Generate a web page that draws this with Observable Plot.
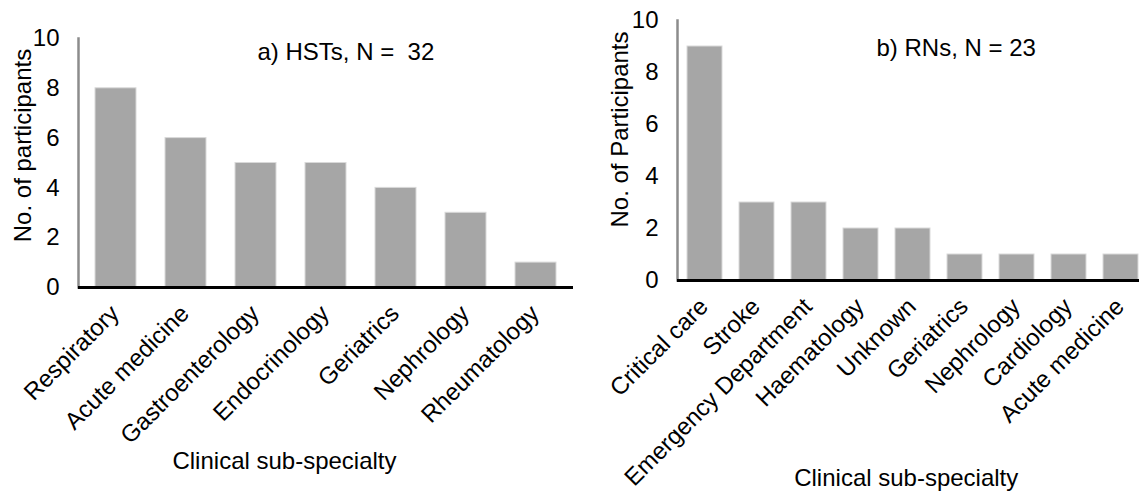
<!DOCTYPE html>
<html>
<head>
<meta charset="utf-8">
<script src="https://cdn.jsdelivr.net/npm/d3@7"></script>
<script src="https://cdn.jsdelivr.net/npm/@observablehq/plot@0.6"></script>
<style>
  html, body { margin: 0; padding: 0; background: #fff; overflow: hidden; }
  #wrap { display: flex; flex-direction: row; width: 1139px; height: 491px; overflow: hidden; }
  #wrap svg { flex-shrink: 0; }
</style>
</head>
<body>
<div id="wrap"></div>
<script>
// ---- data ----
const hstCategories = ["Respiratory", "Acute medicine", "Gastroenterology", "Endocrinology", "Geriatrics", "Nephrology", "Rheumatology"];
const hstValues = [8, 6, 5, 5, 4, 3, 1];
const rnCategories = ["Critical care", "Stroke", "Emergency Department", "Haematology", "Unknown", "Geriatrics", "Nephrology", "Cardiology", "Acute medicine"];
const rnValues = [9, 3, 3, 2, 2, 1, 1, 1, 1];
const yTicks = [0, 2, 4, 6, 8, 10];
const titleA = "a) HSTs, N =  32";
const titleB = "b) RNs, N = 23";
const yLabelA = "No. of participants";
const yLabelB = "No. of Participants";
const xLabel = "Clinical sub-specialty";

const FONT = "Liberation Sans, Arial, Helvetica, sans-serif";
const FS = 24;

function makeChart(cfg) {
  const data = cfg.categories.map((c, i) => ({cat: c, value: cfg.values[i]}));
  return Plot.plot({
    width: cfg.width,
    height: 491,
    marginLeft: cfg.marginLeft,
    marginRight: 0,
    marginTop: cfg.marginTop,
    marginBottom: cfg.marginBottom,
    style: {fontFamily: FONT, fontSize: FS + "px", color: "#000", background: "transparent", overflow: "visible"},
    x: {domain: cfg.categories, paddingInner: cfg.padInner, paddingOuter: cfg.padInner / 2, axis: null},
    y: {domain: [0, 10], axis: null},
    marks: [
      Plot.barY(data, {x: "cat", y: "value", fill: "#a6a6a6", stroke: "#d9d9d9", strokeWidth: 1}),
      Plot.frame({anchor: "left", stroke: "#8c8c8c", strokeWidth: 2.5}),
      Plot.ruleY([0], {stroke: "#000", strokeWidth: 3}),
      Plot.axisY(yTicks, {tickSize: 0, tickPadding: 19, fontSize: FS, label: null, fill: "#000"}),
      Plot.axisX({tickRotate: -45, tickSize: 0, tickPadding: 6, dx: -1, dy: 16, fontSize: FS, label: null, fill: "#000"}),
      Plot.text([cfg.title], {frameAnchor: "top-left", dx: cfg.titleDx, dy: cfg.titleDy, textAnchor: "start", lineAnchor: "middle", fontSize: FS, fill: "#000"}),
      Plot.text([cfg.yLabel], {frameAnchor: "left", rotate: -90, dx: cfg.yLabDx, dy: cfg.yLabDy, textAnchor: "middle", lineAnchor: "middle", fontSize: FS, fill: "#000"}),
      Plot.text([xLabel], {frameAnchor: "bottom", dx: cfg.xLabDx, dy: cfg.xLabDy, textAnchor: "middle", lineAnchor: "middle", fontSize: FS, fill: "#000"})
    ]
  });
}

const left = makeChart({
  categories: hstCategories, values: hstValues, width: 573, marginLeft: 78, marginTop: 38, marginBottom: 204,
  padInner: 0.42, title: titleA, titleDx: 179, titleDy: 14, yLabel: yLabelA, yLabDx: -55, yLabDy: -17.5,
  xLabDx: -41.5, xLabDy: 174
});
const right = makeChart({
  categories: rnCategories, values: rnValues, width: 574.5, marginLeft: 104, marginTop: 20, marginBottom: 211,
  padInner: 0.33, title: titleB, titleDx: 199, titleDy: 28, yLabel: yLabelB, yLabDx: -57, yLabDy: -21,
  xLabDx: -6.5, xLabDy: 198
});
document.getElementById("wrap").append(left, right);
</script>
</body>
</html>
